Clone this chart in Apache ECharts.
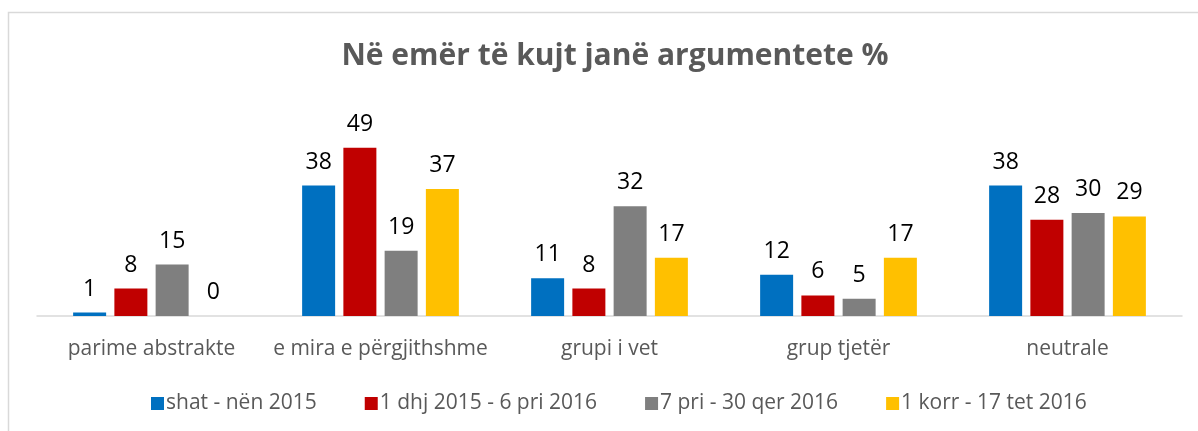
<!DOCTYPE html>
<html>
<head>
<meta charset="utf-8">
<script src="https://cdn.jsdelivr.net/npm/echarts@6/dist/echarts.min.js"></script>
<style>
  html, body { margin: 0; padding: 0; background: #fff; }
  #chart { width: 1198px; height: 431px; }
</style>
</head>
<body>
<div id="chart"></div>
<script>
const categories = ['parime abstrakte', 'e mira e përgjithshme', 'grupi i vet', 'grup tjetër', 'neutrale'];
const seriesNames = ['shat - nën 2015', '1 dhj 2015 - 6 pri 2016', '7 pri - 30 qer 2016', '1 korr - 17 tet 2016'];
const period1 = [1, 38, 11, 12, 38];
const period2 = [8, 49, 8, 6, 28];
const period3 = [15, 19, 32, 5, 30];
const period4 = [0, 37, 17, 17, 29];
const colors = ['#0070C0', '#C00000', '#7F7F7F', '#FFC000'];

const font = 'Open Sans';
const chart = echarts.init(document.getElementById('chart'));

const makeSeries = (name, data, i) => ({
  name,
  type: 'bar',
  data,
  barWidth: 33,
  barGap: '25%',
  itemStyle: { color: colors[i] },
  label: {
    show: true,
    position: 'top',
    distance: 12,
    color: '#000',
    fontFamily: font,
    fontSize: 23
  }
});

chart.setOption({
  animation: false,
  title: {
    text: 'Në emër të kujt janë argumentete %',
    left: 610,
    textAlign: 'center',
    top: 36,
    textStyle: { color: '#595959', fontFamily: font, fontSize: 30, fontWeight: 'bold' }
  },
  graphic: [{
    type: 'polyline',
    shape: { points: [[8.5, 431], [8.5, 12.5], [1198, 12.5]] },
    style: { stroke: '#D9D9D9', lineWidth: 1.5, fill: null }
  }],
  legend: {
    bottom: 12,
    left: 146,
    itemWidth: 13,
    itemHeight: 13,
    itemGap: 48,
    icon: 'rect',
    textStyle: { color: '#595959', fontFamily: font, fontSize: 21, padding: [0, 0, 0, -3] },
    data: seriesNames
  },
  grid: { left: 37, right: 16, top: 110, bottom: 115, containLabel: false },
  xAxis: {
    type: 'category',
    data: categories,
    axisLine: { lineStyle: { color: '#D9D9D9', width: 1.5 } },
    axisTick: { show: false },
    axisLabel: { interval: 0, color: '#595959', fontFamily: font, fontSize: 21, margin: 23 }
  },
  yAxis: {
    type: 'value',
    min: 0,
    max: 60,
    show: false,
    splitLine: { show: false }
  },
  series: [
    makeSeries(seriesNames[0], period1, 0),
    makeSeries(seriesNames[1], period2, 1),
    makeSeries(seriesNames[2], period3, 2),
    makeSeries(seriesNames[3], period4, 3)
  ]
});
</script>
</body>
</html>
